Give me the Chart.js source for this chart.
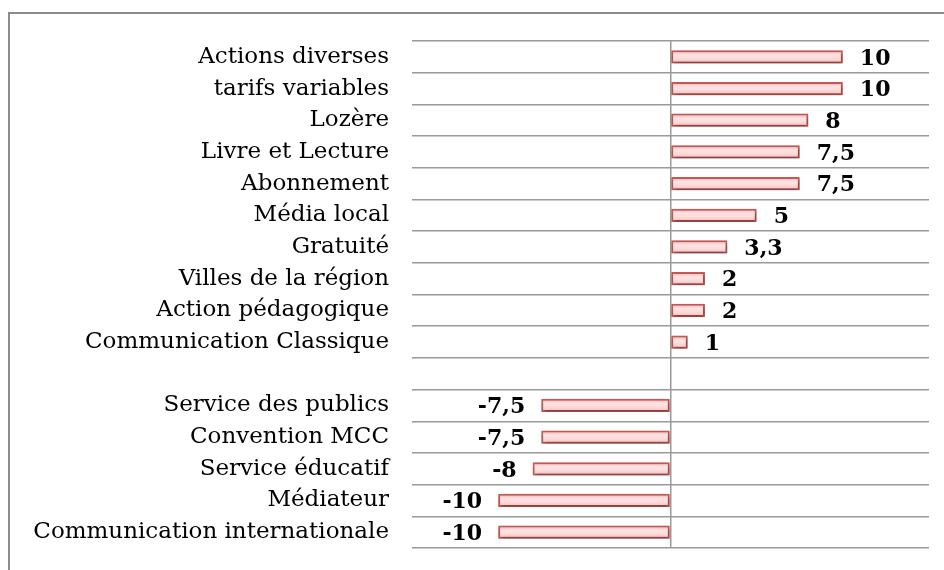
<!DOCTYPE html>
<html>
<head>
<meta charset="utf-8">
<script src="https://cdn.jsdelivr.net/npm/chart.js@4"></script>
<style>
  html, body { margin: 0; padding: 0; background: #fff; }
  #wrap { position: relative; width: 944px; height: 570px; overflow: hidden; }
  #frame { position: absolute; left: 8px; top: 12px; width: 1000px; height: 600px;
           border-left: 2px solid #8c8c8c; border-top: 2px solid #8c8c8c; }
  canvas { position: absolute; left: 0; top: 0; }
</style>
</head>
<body>
<div id="wrap">
  <div id="frame"></div>
  <canvas id="scores" width="944" height="570"></canvas>
</div>
<script>
const categories = [
  'Actions diverses', 'tarifs variables', 'Lozère', 'Livre et Lecture', 'Abonnement',
  'Média local', 'Gratuité', 'Villes de la région', 'Action pédagogique',
  'Communication Classique', '', 'Service des publics', 'Convention MCC',
  'Service éducatif', 'Médiateur', 'Communication internationale'
];
const scores = [10, 10, 8, 7.5, 7.5, 5, 3.3, 2, 2, 1, null, -7.5, -7.5, -8, -10, -10];

const serif = '"DejaVu Serif", "Liberation Serif", serif';
const barPct = 0.42;

// pink vertical gradient per bar, built from the category scale
const barFill = ctx => {
  const chart = ctx.chart;
  const y = chart.scales && chart.scales.y;
  if (!y || ctx.dataIndex === undefined) return '#fbcbcb';
  const mid = y.getPixelForValue(ctx.dataIndex);
  const half = y.height / categories.length * barPct / 2;
  if (!isFinite(mid) || !isFinite(half) || half <= 0) return '#fbcbcb';
  const g = chart.ctx.createLinearGradient(0, mid - half, 0, mid + half);
  g.addColorStop(0, '#f4a9a7');
  g.addColorStop(0.35, '#fde3e3');
  g.addColorStop(0.6, '#fddcdc');
  g.addColorStop(1, '#f6b8b7');
  return g;
};

const valueLabels = {
  id: 'valueLabels',
  beforeDatasetsDraw(chart) {
    const c = chart.ctx;
    c.save();
    c.shadowColor = 'rgba(0,0,0,0.4)';
    c.shadowBlur = 4;
    c.shadowOffsetX = 1;
    c.shadowOffsetY = 2;
  },
  afterDatasetsDraw(chart) {
    const c = chart.ctx;
    c.restore();
    const meta = chart.getDatasetMeta(0);
    c.save();
    c.font = 'bold 22px ' + serif;
    c.fillStyle = '#000';
    c.textBaseline = 'middle';
    meta.data.forEach((bar, i) => {
      const v = scores[i];
      if (v === null) return;
      const txt = String(v).replace('.', ',');
      if (v >= 0) {
        c.textAlign = 'left';
        c.fillText(txt, bar.x + 17, bar.y + 2);
      } else {
        c.textAlign = 'right';
        c.fillText(txt, bar.x - 16, bar.y + 2);
      }
    });
    c.restore();
  }
};

new Chart(document.getElementById('scores'), {
  type: 'bar',
  data: {
    labels: categories,
    datasets: [{
      data: scores,
      backgroundColor: barFill,
      borderColor: '#cc5a56',
      borderWidth: 2,
      borderSkipped: false,
      barPercentage: barPct,
      categoryPercentage: 1
    }]
  },
  options: {
    indexAxis: 'y',
    responsive: false,
    animation: false,
    layout: { padding: { left: 0, top: 41, right: 15, bottom: 22 } },
    plugins: { legend: { display: false }, tooltip: { enabled: false } },
    scales: {
      x: {
        min: -15, max: 15,
        ticks: { display: false, stepSize: 5 },
        border: { display: false },
        grid: {
          drawTicks: false,
          lineWidth: 1.5,
          color: ctx => (ctx.tick && ctx.tick.value === 0) ? '#9a9a9a' : 'rgba(0,0,0,0)'
        },
        afterFit: s => { s.height = 0; s.paddingLeft = 0; s.paddingRight = 0; }
      },
      y: {
        border: { display: false },
        grid: { offset: true, drawTicks: false, color: '#9a9a9a', lineWidth: 1.5 },
        ticks: { color: '#000', padding: 23, font: { family: serif, size: 23 } },
        afterFit: s => { s.width = 412; s.paddingTop = 0; s.paddingBottom = 0; }
      }
    }
  },
  plugins: [valueLabels]
});
</script>
</body>
</html>
